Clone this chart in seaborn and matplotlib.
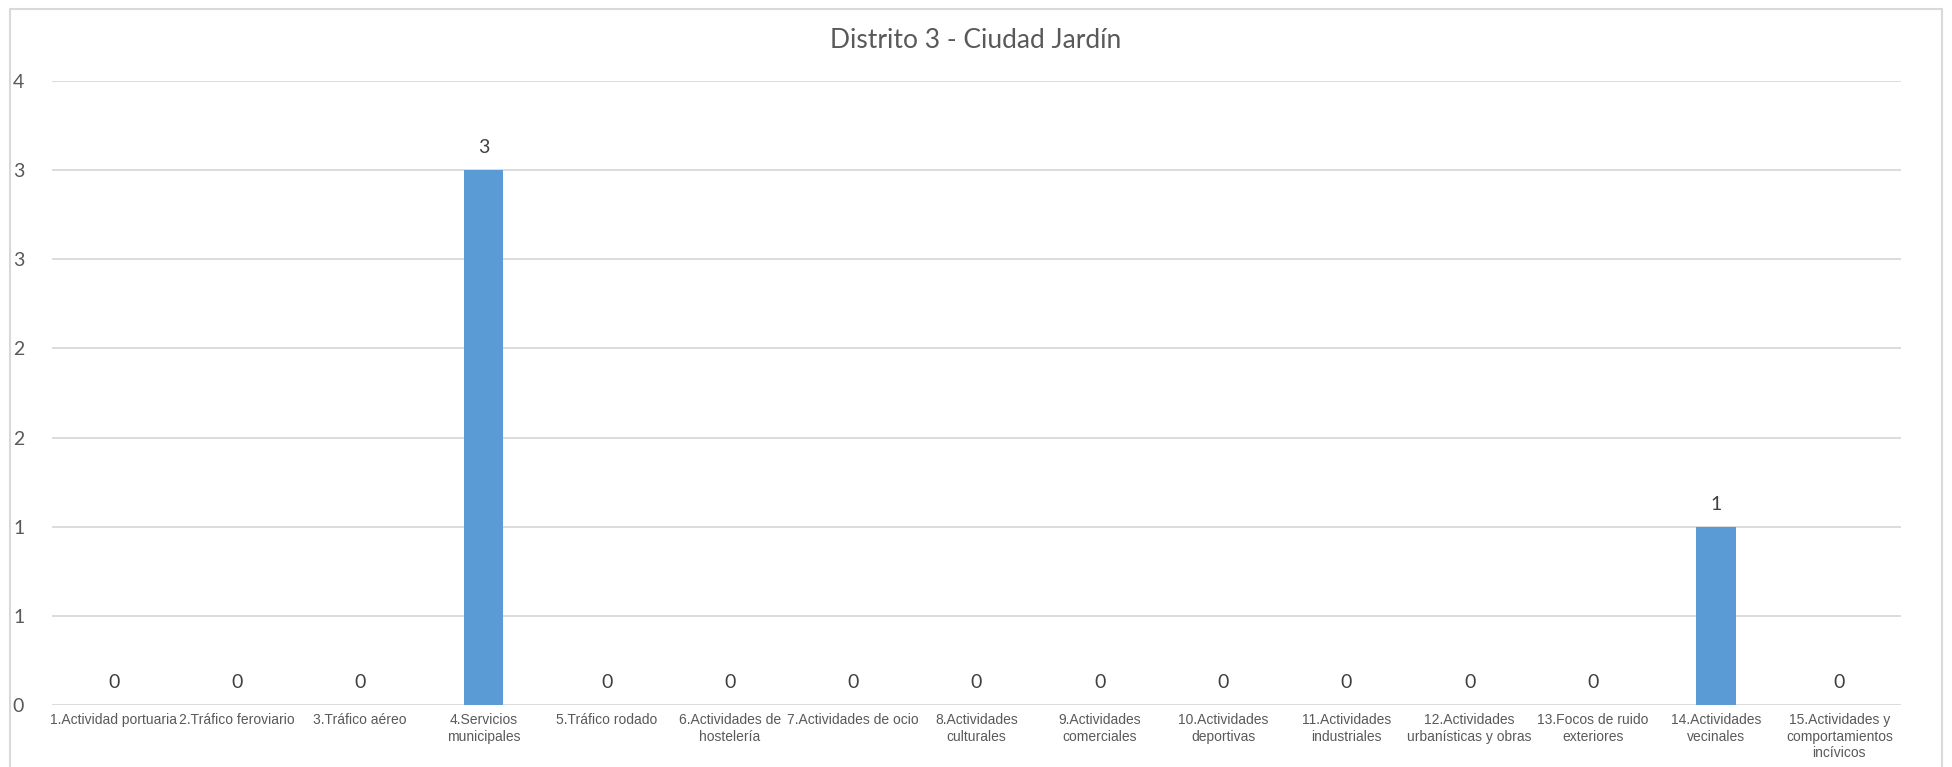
import matplotlib
matplotlib.use("Agg")
import matplotlib.pyplot as plt
import seaborn as sns
import pandas as pd
from matplotlib.patches import Rectangle

title = "Distrito 3 - Ciudad Jardín"
categories = [
    "1.Actividad portuaria",
    "2.Tráfico feroviario",
    "3.Tráfico aéreo",
    "4.Servicios\nmunicipales",
    "5.Tráfico rodado",
    "6.Actividades de\nhostelería",
    "7.Actividades de ocio",
    "8.Actividades\nculturales",
    "9.Actividades\ncomerciales",
    "10.Actividades\ndeportivas",
    "11.Actividades\nindustriales",
    "12.Actividades\nurbanísticas y obras",
    "13.Focos de ruido\nexteriores",
    "14.Actividades\nvecinales",
    "15.Actividades y\ncomportamientos\nincívicos",
]
values = [0, 0, 0, 3, 0, 0, 0, 0, 0, 0, 0, 0, 0, 1, 0]
ytick_values = [0, 0.5, 1, 1.5, 2, 2.5, 3, 3.5]
ytick_labels = ["0", "1", "1", "2", "2", "3", "3", "4"]

sns.set_theme(style="white")
plt.rcParams["font.family"] = ["Liberation Sans", "DejaVu Sans"]

W, H = 1952, 767
fig = plt.figure(figsize=(W / 100, H / 100), dpi=100)
fig.patch.set_facecolor("white")
left, right, top, bottom = 52, 1901, 81, 705
ax = fig.add_axes([left / W, 1 - bottom / H, (right - left) / W, (bottom - top) / H])

df = pd.DataFrame({"cat": categories, "val": values})
sns.barplot(data=df, x="cat", y="val", color="#5B9BD5", width=0.32, ax=ax,
            saturation=1, linewidth=0)

ax.set_xlim(-0.5, len(categories) - 0.5)
ax.set_ylim(0, 3.5)
ax.set_yticks(ytick_values)
ax.set_yticklabels(ytick_labels, fontfamily="Lato", fontsize=14, color="#595959")
ax.yaxis.grid(True, color="#D9D9D9", linewidth=1.3)
ax.set_axisbelow(True)
for s in ax.spines.values():
    s.set_visible(False)
ax.tick_params(axis="y", length=0, pad=20)
ax.tick_params(axis="x", length=0, pad=6)
ax.set_xticks(range(len(categories)))
ax.set_xticklabels(categories, fontsize=10, color="#595959", linespacing=1.2,
                   ha="center", va="top")
ax.set_xlabel("")
ax.set_ylabel("")

for c in ax.containers:
    ax.bar_label(c, labels=[str(v) for v in values], padding=10,
                 fontfamily="Lato", fontsize=14, color="#404040")

fig.text(0.5, 1 - 41 / H, title, ha="center", va="center",
         fontfamily="Lato", fontsize=19, color="#595959")

fig.add_artist(Rectangle((10 / W, -0.1), (1942 - 10) / W, 1.1 - 9 / H,
                         transform=fig.transFigure, fill=False,
                         edgecolor="#D9D9D9", linewidth=1.5))

fig.savefig("out.png", dpi=100)
